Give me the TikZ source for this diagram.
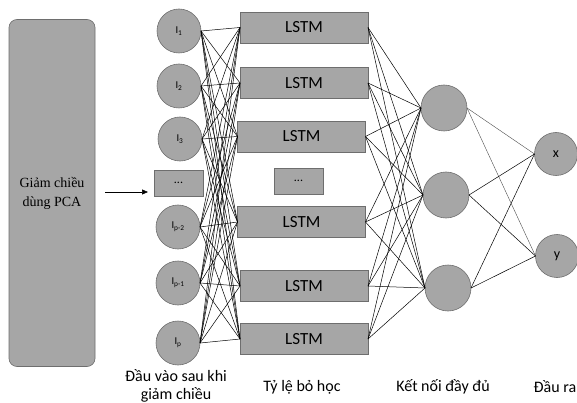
\documentclass[tikz,border=0pt]{standalone}
\usepackage{fontspec}
\setmainfont{Carlito}
\newfontfamily\pcafont{Liberation Serif}
\usetikzlibrary{arrows.meta}
\definecolor{cellfill}{HTML}{A6A6A6}
\definecolor{celledge}{HTML}{6E6E6E}
\tikzset{
  unit/.style={circle, fill=cellfill, draw=celledge, line width=0.6pt, inner sep=0pt, outer sep=0pt},
  inp/.style={unit, minimum size=44pt, font=\fontsize{10.5}{11}\selectfont},
  dense/.style={unit, minimum size=46pt},
  outp/.style={unit, minimum size=43pt, font=\fontsize{14}{15}\selectfont},
  lstm/.style={rectangle, fill=cellfill, draw=celledge, line width=0.6pt, inner sep=0pt, outer sep=0pt,
    minimum width=128pt, minimum height=31pt, font=\fontsize{17}{18}\selectfont},
  dotbox/.style={rectangle, fill=cellfill, draw=celledge, line width=0.6pt, inner sep=0pt, outer sep=0pt,
    minimum width=49pt, minimum height=26pt, font=\fontsize{12}{13}\selectfont},
  wire/.style={line width=0.5pt, black},
  lightwire/.style={line width=0.4pt, black!70},
  caption/.style={align=center, font=\fontsize{16}{18}\selectfont, inner sep=0pt}
}
\begin{document}
\begin{tikzpicture}[x=1pt, y=-1pt]
\useasboundingbox (0,0) rectangle (577,403);

% PCA block
\node[rectangle, rounded corners=8pt, fill=cellfill, draw=celledge, line width=0.6pt,
  minimum width=86pt, minimum height=347pt, inner sep=0pt, align=center,
  font=\pcafont\fontsize{14}{19}\selectfont] (pca) at (52,193) {Giảm chiều\\dùng PCA};
\coordinate (arrS) at (105,192);
\coordinate (arrE) at (148,192);
\draw[line width=0.6pt, -{Triangle[length=6pt, width=5pt]}] (arrS) -- (arrE);

% input layer
\node[inp] (i1) at (179,31) {I\textsubscript{1}};
\node[inp] (i2) at (179,86) {I\textsubscript{2}};
\node[inp] (i3) at (180,139) {I\textsubscript{3}};
\node[dotbox] (idots) at (178.5,183) {...};
\node[inp] (i4) at (178,227) {I\textsubscript{p-2}};
\node[inp] (i5) at (178,283) {I\textsubscript{p-1}};
\node[inp] (i6) at (178,343) {I\textsubscript{p}};

% LSTM layer
\node[lstm] (l1) at (304,27.5) {LSTM};
\node[lstm] (l2) at (304,83) {LSTM};
\node[lstm] (l3) at (301.5,136.5) {LSTM};
\node[dotbox] (ldots) at (298.5,181) {...};
\node[lstm] (l4) at (301.5,222) {LSTM};
\node[lstm] (l5) at (304,286) {LSTM};
\node[lstm] (l6) at (304,339) {LSTM};

% fully connected layer
\node[dense] (d1) at (444,108) {};
\node[dense] (d2) at (446,195) {};
\node[dense] (d3) at (448,288) {};

% output layer
\node[outp] (ox) at (556,154) {x};
\node[outp] (oy) at (557,256) {y};

% connections
\foreach \a in {i1,i2,i3,i4,i5,i6}
  \foreach \b in {l1,l2,l3,l4,l5,l6}
    \draw[wire] (\a.east) -- (\b.west);
\foreach \a in {l1,l2,l3,l4,l5,l6}
  \foreach \b in {d1,d2,d3}
    \draw[wire] (\a.east) -- (\b.west);
\draw[lightwire] (d1.east) -- (ox.west);
\draw[lightwire] (d1.east) -- (oy.west);
\foreach \a in {d2,d3}
  \foreach \b in {ox,oy}
    \draw[wire] (\a.east) -- (\b.west);

% captions
\node[caption] (c1) at (176,386) {Đầu vào sau khi\\giảm chiều};
\node[caption] (c2) at (302,387) {Tỷ lệ bỏ học};
\node[caption] (c3) at (443,387) {Kết nối đầy đủ};
\node[caption] (c4) at (555,387) {Đầu ra};
\end{tikzpicture}
\end{document}
